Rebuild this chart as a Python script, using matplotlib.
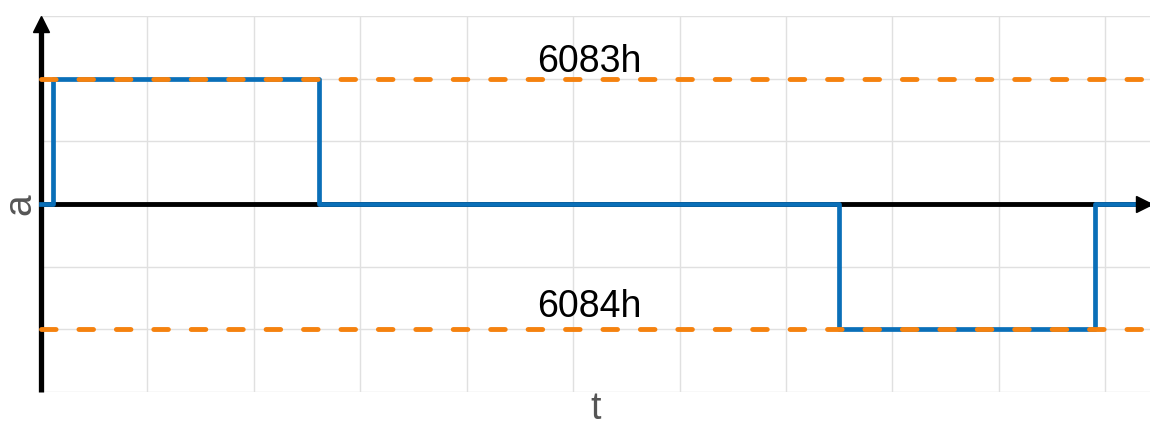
import matplotlib
matplotlib.use("Agg")
import matplotlib.pyplot as plt

# dados do sinal (tempo em unidades de grade, amplitude)
t_sinal = [0, 0.11, 0.11, 2.61, 2.61, 7.50, 7.50, 9.90, 9.90, 10.42]
a_sinal = [0, 0, 2, 2, 0, 0, -2, -2, 0, 0]
niveis = [2, -2]
rotulos = ["6083h", "6084h"]
rotulo_x = [5.15, 5.15]
rotulo_y = [2.10, -1.80]

azul = "#0a6fb8"
laranja = "#f5820f"

plt.rcParams['font.family'] = ['Liberation Sans', 'DejaVu Sans']

fig = plt.figure(figsize=(11.5, 4.28), dpi=100)
ax = fig.add_axes([0.0357, 0.0841, 0.9643, 0.8785])
xmax = 10.42
ax.set_xlim(0, xmax)
ax.set_ylim(-3, 3)

# grade
ax.set_xticks(range(1, 11))
ax.set_yticks(range(-3, 4))
ax.grid(True, color="#e0e0e0", lw=1)
ax.tick_params(length=0, labelbottom=False, labelleft=False)
for s in ax.spines.values():
    s.set_visible(False)

# eixos com setas
ax.plot([0, 0], [-3, 2.85], color="k", lw=3.8, zorder=2, clip_on=False, solid_capstyle="butt")
ax.plot([0], [2.88], marker="^", ms=11, color="k", zorder=2, clip_on=False)
ax.plot([0, xmax - 0.1], [0, 0], color="k", lw=3.5, zorder=2, clip_on=False, solid_capstyle="butt")

# sinal
ax.plot(t_sinal, a_sinal, color=azul, lw=3.4, zorder=3, clip_on=False)
ax.plot([xmax - 0.06], [0], marker=">", ms=11, color="k", zorder=3, clip_on=False)

# niveis tracejados
for n in niveis:
    ax.plot([0, xmax], [n, n], color=laranja, lw=3.5, zorder=4,
            dashes=(3.0, 4.7), dash_capstyle="round", clip_on=False)

for txt, x, y in zip(rotulos, rotulo_x, rotulo_y):
    ax.text(x, y, txt, fontsize=27, ha="center", va="baseline", color="k", zorder=5)

ax.set_xlabel("t", fontsize=27, color="#555555", labelpad=-1)
ax.set_ylabel("a", fontsize=28, color="#555555", labelpad=2)

fig.savefig("out.png", dpi=100)
